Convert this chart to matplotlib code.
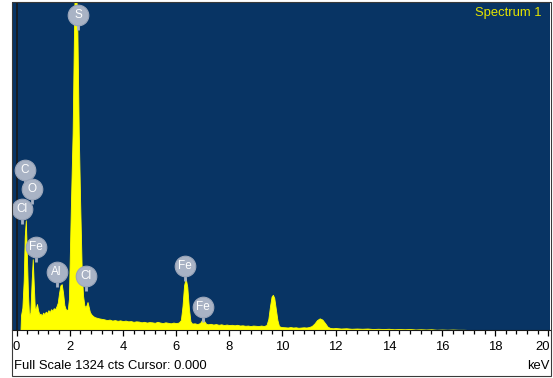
import numpy as np
import matplotlib
matplotlib.use("Agg")
import matplotlib.pyplot as plt
import matplotlib.transforms as mtransforms
from matplotlib.patches import Rectangle
from matplotlib.ticker import MultipleLocator

plt.rcParams["font.family"] = ["Liberation Sans", "DejaVu Sans"]

# EDS spectrum, counts per channel (keV)
energy_kev = [
    0.15, 0.17, 0.22, 0.27, 0.31, 0.35, 0.39, 0.43, 0.47, 0.52, 0.57, 0.61, 0.65, 0.69,
    0.73, 0.77, 0.81, 0.86, 0.90, 0.95, 1.00, 1.05, 1.10, 1.15, 1.20, 1.25, 1.30, 1.35,
    1.40, 1.45, 1.50, 1.55, 1.60, 1.65, 1.70, 1.75, 1.80, 1.85, 1.90, 1.93, 1.97, 2.01,
    2.05, 2.11, 2.16, 2.19, 2.24, 2.29, 2.34, 2.39, 2.45, 2.50, 2.55, 2.59, 2.63, 2.67,
    2.71, 2.76, 2.82, 2.88, 2.94,
    3.0, 3.1, 3.2, 3.3, 3.4, 3.5, 3.6, 3.7, 3.8, 3.9, 4.0, 4.1, 4.2, 4.3, 4.4, 4.5, 4.6,
    4.7, 4.8, 4.9, 5.0, 5.1, 5.2, 5.3, 5.4, 5.5, 5.6, 5.7, 5.8, 5.9, 6.0, 6.1,
    6.18, 6.24, 6.30, 6.36, 6.42, 6.48, 6.54,
    6.6, 6.7, 6.8, 6.9, 6.95, 7.01, 7.07, 7.13,
    7.2, 7.3, 7.4, 7.5, 7.6, 7.7, 7.8, 7.9, 8.0, 8.1, 8.2, 8.3, 8.4, 8.5, 8.6, 8.7, 8.8,
    8.9, 9.0, 9.1, 9.2, 9.3, 9.4,
    9.47, 9.53, 9.59, 9.64, 9.69, 9.75, 9.81, 9.87,
    9.95, 10.1, 10.2, 10.3, 10.4, 10.5, 10.6, 10.7, 10.8, 10.9, 11.0, 11.1,
    11.2, 11.3, 11.4, 11.5, 11.6, 11.7,
    11.8, 11.9, 12.0, 12.2, 12.4, 12.6, 12.8, 13.0, 13.2, 13.4, 13.6, 13.8, 14.0, 14.2,
    14.4, 14.6, 14.8, 15.0, 15.2, 15.4, 15.6, 15.8, 16.0, 16.2, 16.4, 16.6, 16.8, 17.0,
    20.0,
]
counts = [
    0, 60, 90, 200, 380, 443, 300, 150, 60, 70, 200, 286, 180, 80,
    90, 105, 80, 62, 66, 58, 70, 64, 74, 68, 80, 72, 84, 78,
    88, 84, 95, 110, 150, 180, 185, 150, 100, 84, 80, 85, 125, 330,
    527, 797, 1199, 1400, 1400, 1199, 797, 527, 250, 140, 100, 92, 100, 113,
    95, 72, 62, 56, 52,
    50, 47, 45, 43, 40, 42, 38, 40, 37, 39, 36, 38, 35, 36, 33, 35, 34,
    31, 33, 30, 32, 31, 29, 33, 30, 28, 31, 29, 27, 30, 28, 30,
    40, 95, 180, 209, 175, 90, 35,
    26, 27, 24, 28, 36, 48, 34, 25,
    23, 25, 22, 24, 21, 23, 20, 22, 20, 21, 19, 21, 18, 19, 17, 18, 16,
    18, 17, 16, 18, 16, 20,
    45, 95, 135, 142, 130, 85, 40, 16,
    12, 11, 10, 12, 10, 11, 9, 10, 11, 10, 12, 16,
    26, 40, 47, 42, 28, 13,
    8, 7, 8, 6, 7, 5, 6, 5, 6, 4, 5, 4, 5, 3,
    4, 3, 4, 2, 3, 2, 3, 1, 2, 1, 2, 1, 1, 0,
    0,
]

# element markers: symbol, energy (keV), height (cts)
peak_names = ["S", "C", "O", "Cl", "Fe", "Al", "Cl", "Fe", "Fe"]
peak_x = [2.32, 0.32, 0.57, 0.22, 0.72, 1.51, 2.61, 6.33, 7.02]
peak_y = [1273, 646, 570, 489, 335, 236, 218, 260, 94]

tick_kev = [0, 2, 4, 6, 8, 10, 12, 14, 16, 18, 20]

full_scale = 1324
cursor_kev = 0.000

W, H = 553, 378
fig = plt.figure(figsize=(W / 100, H / 100), dpi=100)
ax = fig.add_axes([12 / W, (H - 330) / H, 538 / W, 328 / H])
ax.set_facecolor("#083464")

ax.fill_between(energy_kev, counts, 0, color="#ffff00", lw=0.6, edgecolor="#ffff00")
ax.axvline(cursor_kev, color="#1a1a1a", lw=1.2)

px = full_scale / 328.0
for name, x, y in zip(peak_names, peak_x, peak_y):
    ax.plot([x, x], [y - 15 * px, y], color="#a9b3c5", lw=2, solid_capstyle="butt", zorder=4)
    ax.scatter([x], [y], s=220, color="#a9b3c5", edgecolors="#9aa5b9", lw=0.8, zorder=5)
    ax.text(x, y, name, color="white", fontsize=8.5, ha="center", va="center", zorder=6)

ax.text(0.985, 0.985, "Spectrum 1", transform=ax.transAxes, ha="right", va="top",
        color="#e4e400", fontsize=9.4)

ax.set_xlim(-0.17, 20.06)
ax.set_ylim(0, full_scale)
ax.set_yticks([])
ax.set_xticks(tick_kev)
ax.xaxis.set_minor_locator(MultipleLocator(0.4))
ax.tick_params(axis="x", which="major", direction="out", length=4, width=0.9, labelbottom=False)
ax.tick_params(axis="x", which="minor", direction="out", length=3, width=0.9)
for s in ["top", "right", "left"]:
    ax.spines[s].set_visible(False)
ax.spines["bottom"].set_color("#1a1a1a")
ax.spines["bottom"].set_linewidth(0.8)

# tick labels drawn by hand so the last one stays inside the frame
trans = mtransforms.blended_transform_factory(ax.transData, fig.transFigure)
for k in tick_kev:
    ha = "right" if k == tick_kev[-1] else "center"
    xk = 20.04 if k == tick_kev[-1] else k
    ax.text(xk, (H - 347) / H, str(k), transform=trans, ha=ha, va="center", fontsize=9.4)

fig.text(14 / W, (H - 366) / H, "Full Scale %d cts Cursor: %.3f" % (full_scale, cursor_kev),
         ha="left", va="center", fontsize=9.4)
fig.text(549 / W, (H - 366) / H, "keV", ha="right", va="center", fontsize=9.4)

fig.add_artist(Rectangle((12 / W, (H - 376) / H), 539 / W, 374 / H, transform=fig.transFigure,
                         fill=False, edgecolor="#3a3a3a", lw=0.8))

fig.savefig("out.png", dpi=100, facecolor="white")
